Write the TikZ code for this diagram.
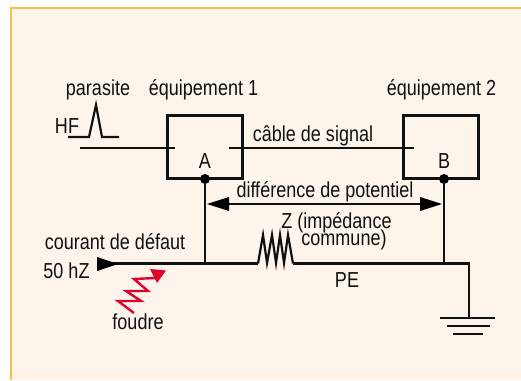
\documentclass[tikz,border=0pt]{standalone}
\usepackage{fontspec}
\setmainfont[FakeStretch=0.83]{Liberation Sans}
\definecolor{paper}{HTML}{FDF5EC}
\definecolor{edge}{HTML}{F7C24A}
\definecolor{bolt}{HTML}{E2002D}
\definecolor{ink}{HTML}{111111}
\tikzset{
  wire/.style={draw=ink,line width=2.2pt,line cap=butt},
  box/.style={draw=ink,line width=2.4pt,minimum width=75pt,minimum height=63pt,inner sep=0pt},
  dot/.style={circle,fill=black,minimum size=10pt,inner sep=0pt},
  lbl/.style={font=\fontsize{21.7}{22}\selectfont,text=ink,inner sep=0pt,anchor=base},
  tip/.style={fill=black,draw=none},
}
\begin{document}
\begin{tikzpicture}[x=1pt,y=-1pt]
\useasboundingbox (0,0) rectangle (521,380);
\fill[paper] (11,8) rectangle (521,380);
\draw[edge,line width=1.2pt] (11,380) -- (11,8) -- (521,8);
% equipment
\node[box] (boxA) at (205,147) {};
\node[box] (boxB) at (441,147) {};
\node[dot] (dotA) at (205,179) {};
\node[dot] (dotB) at (444,179) {};
% signal cable
\coordinate (sigL) at (80,148);
\coordinate (sigAin) at (175,148);
\coordinate (sigAout) at (229,148);
\coordinate (sigBin) at (414,148);
\draw[wire] (sigL) -- (sigAin);
\draw[wire] (sigAout) -- (sigBin);
% pulse
\coordinate (pL) at (68,137);
\coordinate (pA) at (89,137);
\coordinate (pP) at (96,105);
\coordinate (pB) at (102,137);
\coordinate (pR) at (119,137);
\draw[wire,line join=miter] (pL) -- (pA) -- (pP) -- (pB) -- (pR);
% PE line
\coordinate (peL) at (112,263.5);
\coordinate (jA) at (205,263.5);
\coordinate (resL) at (258,263.5);
\coordinate (resR) at (293,263.5);
\coordinate (jB) at (444,263.5);
\coordinate (gC) at (469,263.5);
\coordinate (gD) at (469,318);
\draw[wire] (dotA) -- (jA);
\draw[wire] (dotB) -- (jB);
\draw[wire] (peL) -- (resL);
\draw[wire,line join=miter] (resL) -- (263,235) -- (267,263) -- (272,235) -- (276,263) -- (280,235) -- (284,263) -- (288,235) -- (resR);
\draw[wire,line join=miter] (resR) -- (gC) -- (gD);
% ground
\coordinate (g1L) at (440,318); \coordinate (g1R) at (495,318);
\coordinate (g2L) at (447,326); \coordinate (g2R) at (490,326);
\coordinate (g3L) at (453,334); \coordinate (g3R) at (483,334);
\draw[wire] (g1L) -- (g1R);
\draw[wire] (g2L) -- (g2R);
\draw[wire] (g3L) -- (g3R);
% potential arrow
\coordinate (arrL) at (207,204);
\coordinate (arrR) at (442,204);
\draw[wire] (228,204) -- (422,204);
\fill[tip] (arrL) -- (229,197) -- (229,211) -- cycle;
\fill[tip] (arrR) -- (420,197) -- (420,211) -- cycle;
% fault current arrowhead
\fill[tip] (118,264) -- (97,257) -- (97,271) -- cycle;
% lightning
\draw[bolt,line width=2.4pt,line join=miter] (134,313) -- (118,301) -- (141,301) -- (126,291) -- (148,291) -- (134,279) -- (155,278);
\fill[bolt] (166,270.5) -- (150,269) -- (157,283) -- cycle;
% labels
\node[lbl] (tPar) at (98,95) {parasite};
\node[lbl] (tEq1) at (203.5,95) {équipement 1};
\node[lbl] (tEq2) at (441.5,95) {équipement 2};
\node[lbl] (tHF) at (67,133) {HF};
\node[lbl] (tA) at (205,168) {A};
\node[lbl] (tB) at (444,168) {B};
\node[lbl] (tCable) at (313,141) {câble de signal};
\node[lbl] (tDiff) at (325,197) {différence de potentiel};
\node[lbl] (tZ) at (336.5,228) {Z (impédance};
\node[lbl] (tCom) at (344,245) {commune)};
\node[lbl] (tCour) at (115,249) {courant de défaut};
\node[lbl] (t50) at (66.5,278) {50 hZ};
\node[lbl] (tFou) at (138,329) {foudre};
\node[lbl] (tPE) at (347,287) {PE};
\end{tikzpicture}
\end{document}
